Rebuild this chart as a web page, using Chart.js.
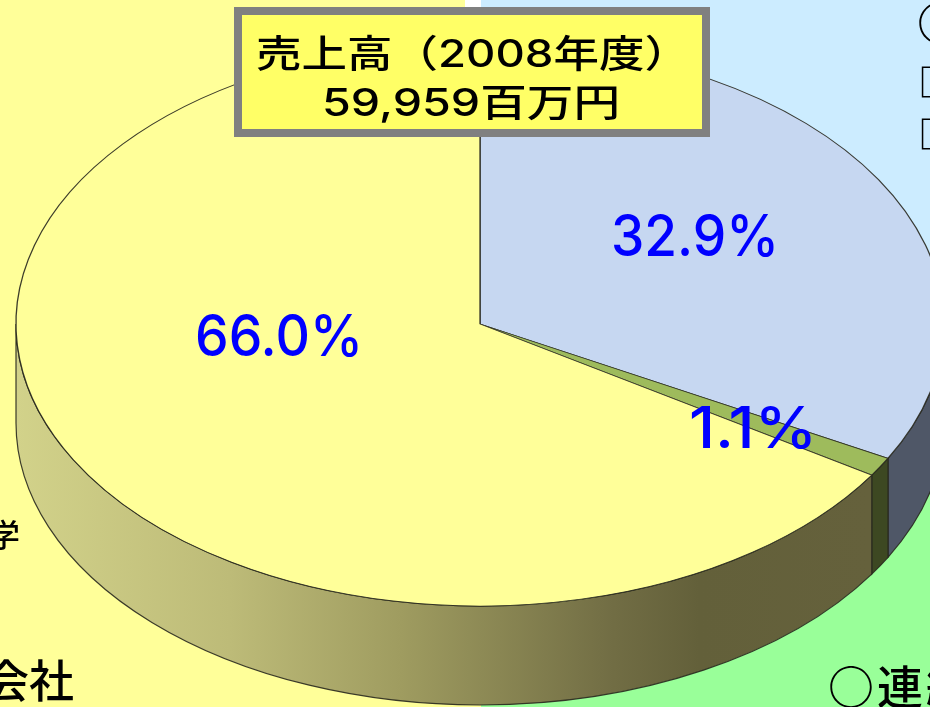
<!DOCTYPE html>
<html>
<head>
<meta charset="utf-8">
<style>html,body{margin:0;padding:0;background:#FFFF99;overflow:hidden}canvas{display:block}</style>
<script src="https://cdn.jsdelivr.net/npm/chart.js@4/dist/chart.umd.min.js"></script>
</head>
<body>
<canvas id="c" width="930" height="707"></canvas>
<script>
const categories = ['32.9%', '1.1%', '66.0%'];
const shareValues = [32.9, 1.1, 66.0];
const titleLines = ['売上高（2008年度）', '59,959百万円'];

const topColors = ['#C6D7F1', '#9EBB5C', '#FFFF99'];
const sideColors = ['#4F5767', '#3D4822', null];
const edge = 'rgba(40,40,30,0.9)';
const CX = 480, CY = 324, RX = 464, RY = 282, DEPTH = 99;

function stretched(ctx, text, x, base, font, width, color) {
  ctx.save();
  ctx.font = font;
  ctx.fillStyle = color;
  ctx.textAlign = 'left';
  ctx.textBaseline = 'alphabetic';
  const s = width / ctx.measureText(text).width;
  ctx.translate(x, base);
  ctx.scale(s, 1);
  ctx.fillText(text, 0, 0);
  ctx.restore();
}
function plain(ctx, text, x, base, size, spacing) {
  ctx.save();
  ctx.font = '500 ' + size + 'px "Noto Sans CJK JP"';
  ctx.fillStyle = '#000';
  ctx.textAlign = 'left';
  ctx.textBaseline = 'alphabetic';
  if (spacing) ctx.letterSpacing = spacing + 'px';
  ctx.fillText(text, x, base);
  ctx.restore();
}

const pie3d = {
  id: 'pie3d',
  beforeDraw(chart) {
    const ctx = chart.ctx;
    ctx.save();
    ctx.fillStyle = '#FFFF99'; ctx.fillRect(0, 0, 930, 707);
    ctx.fillStyle = '#FFFFFF'; ctx.fillRect(465, 0, 16, 40);
    ctx.fillStyle = '#CCECFF'; ctx.fillRect(481, 0, 449, 480);
    ctx.fillStyle = '#99FF99'; ctx.fillRect(481, 480, 449, 227);
    ctx.restore();
  },
  beforeDatasetsDraw(chart) {
    const ctx = chart.ctx;
    const arcs = chart.getDatasetMeta(0).data;
    const grad = ctx.createLinearGradient(16, 0, 870, 0);
    grad.addColorStop(0, '#D2D28A');
    grad.addColorStop(0.25, '#BDBB78');
    grad.addColorStop(0.45, '#9F9C60');
    grad.addColorStop(0.7, '#716D44');
    grad.addColorStop(0.8, '#63603A');
    grad.addColorStop(1, '#65613C');
    arcs.forEach((a, i) => {
      const tau = Math.PI * 2;
      const s = a.startAngle, e = a.endAngle;
      [[s, e], [s + tau, e + tau], [s - tau, e - tau]].forEach(([p, q]) => {
        const a0 = Math.max(p, 0), a1 = Math.min(q, Math.PI);
        if (a1 <= a0) return;
        ctx.save();
        ctx.beginPath();
        ctx.ellipse(CX, CY, RX, RY, 0, a0, a1);
        ctx.lineTo(CX + RX * Math.cos(a1), CY + RY * Math.sin(a1) + DEPTH);
        ctx.ellipse(CX, CY + DEPTH, RX, RY, 0, a1, a0, true);
        ctx.closePath();
        ctx.fillStyle = sideColors[i] || grad;
        ctx.fill();
        ctx.strokeStyle = edge;
        ctx.lineWidth = 1.2;
        ctx.stroke();
        ctx.restore();
      });
    });
    const c = arcs[0];
    const r = c.outerRadius;
    ctx.save();
    ctx.translate(CX, CY);
    ctx.scale(RX / r, RY / r);
    ctx.translate(-c.x, -c.y);
  },
  afterDatasetsDraw(chart) {
    chart.ctx.restore();
  },
  afterDraw(chart) {
    const ctx = chart.ctx;
    const pctFont = '500 57px Inter, "DejaVu Sans"';
    stretched(ctx, categories[0], 611, 256, pctFont, 168, '#0000FF');
    stretched(ctx, categories[1], 689, 448, pctFont, 128, '#0000FF');
    stretched(ctx, categories[2], 195, 356, pctFont, 168, '#0000FF');
    ctx.save();
    ctx.fillStyle = '#FFFF66';
    ctx.fillRect(238, 11, 468, 122);
    ctx.strokeStyle = '#808080';
    ctx.lineWidth = 8;
    ctx.strokeRect(238, 11, 468, 122);
    ctx.restore();
    const tf = '500 38px Inter, "Noto Sans CJK JP"';
    stretched(ctx, titleLines[0], 256, 67, tf, 434, '#000');
    stretched(ctx, titleLines[1], 322, 116, tf, 298, '#000');
    plain(ctx, '○', 917, 40, 46);
    plain(ctx, '□', 918, 96, 38);
    plain(ctx, '□', 918, 148, 38);
    plain(ctx, '学', -12, 547, 32);
    plain(ctx, '会社', -16, 698, 45);
    plain(ctx, '○連結', 828, 704, 46, 3);
  }
};

new Chart(document.getElementById('c'), {
  type: 'pie',
  data: {
    labels: categories,
    datasets: [{
      data: shareValues,
      backgroundColor: topColors,
      borderColor: edge,
      borderWidth: 1,
      clip: false
    }]
  },
  options: {
    responsive: false,
    animation: false,
    layout: { padding: 0 },
    plugins: { legend: { display: false }, tooltip: { enabled: false }, title: { display: false } }
  },
  plugins: [pie3d]
});
</script>
</body>
</html>
